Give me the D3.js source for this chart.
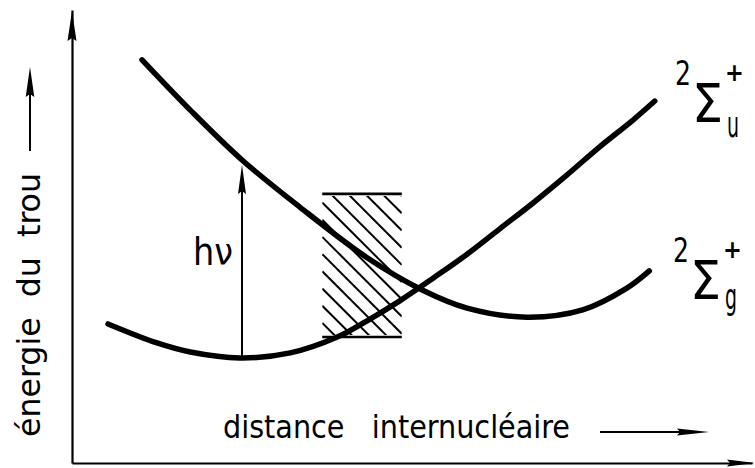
<!DOCTYPE html>
<html>
<head>
<meta charset="utf-8">
<script src="https://cdn.jsdelivr.net/npm/d3@7"></script>
<style>
  html, body { margin: 0; padding: 0; background: #fff; }
  svg { display: block; }
  text { font-family: "DejaVu Sans Condensed", "DejaVu Sans", sans-serif; fill: #000; white-space: pre; }
</style>
</head>
<body>
<svg id="chart" width="755" height="468"></svg>
<script>
// Potential curves of the hole (arbitrary units: internuclear distance, energy)
const sigmaGx = [10.3, 17.4, 25.0, 33.5, 43.4, 51.5, 58.1, 66.9, 75.1, 81.6, 84.9];
const sigmaGy = [89.0, 77.9, 66.9, 56.5, 45.3, 38.2, 34.2, 32.2, 33.8, 38.6, 42.4];

const sigmaUx = [5.3, 12.5, 17.4, 24.7, 32.1, 39.0, 43.4, 48.2, 53.1, 58.1, 62.9, 67.8, 72.8, 77.6, 82.5, 85.7];
const sigmaUy = [30.7, 26.5, 24.5, 23.2, 24.3, 27.8, 31.4, 35.8, 40.8, 46.1, 51.7, 57.4, 63.6, 69.8, 75.7, 79.9];

// Vertical transition h·nu: from the minimum of the lower state up to the upper curve
const transitionX = [25.0];
const transitionY = [23.2, 65.8];

// Shaded region (distance range, energy range)
const bandX = [36.8, 48.5];
const bandY = [27.8, 59.4];

const labels = ["énergie  du  trou", "distance   internucléaire", "hν"];
const states = ["u", "g"];

const svg = d3.select("#chart");
const x = d3.scaleLinear().domain([0, 100]).range([72, 752]);
const y = d3.scaleLinear().domain([0, 100]).range([463, 10]);

// Filled spear-shaped arrow head with its tip at (tx, ty), pointing along angle a
function head(g, tx, ty, a, len, hw) {
  const ca = Math.cos(a), sa = Math.sin(a);
  const bx = tx - ca * len, by = ty - sa * len;
  const p = d3.path();
  p.moveTo(tx, ty);
  p.lineTo(bx - sa * hw, by + ca * hw);
  p.lineTo(bx + ca * 3, by + sa * 3);
  p.lineTo(bx + sa * hw, by - ca * hw);
  p.closePath();
  g.append("path").attr("d", p.toString()).attr("fill", "#000");
}

// Axes (no ticks), drawn with d3 axes
svg.append("g").attr("transform", `translate(0,${y(0)})`)
  .call(d3.axisBottom(x).tickValues([]).tickSizeOuter(0));
svg.append("g").attr("transform", `translate(${x(0)},0)`)
  .call(d3.axisLeft(y).tickValues([]).tickSizeOuter(0));
svg.selectAll(".domain").attr("stroke", "#000").attr("stroke-width", 2.2);
head(svg, x(100) + 3, y(0), 0, 28, 3.6);
head(svg, x(0), y(100) + 1, -Math.PI / 2, 30, 4.5);

// Shaded band: top and bottom edges plus diagonal hatching
const bx0 = x(bandX[0]), bx1 = x(bandX[1]);
const by0 = y(bandY[1]), by1 = y(bandY[0]);
svg.append("clipPath").attr("id", "bandClip")
  .append("rect").attr("x", bx0).attr("y", by0 + 2).attr("width", bx1 - bx0).attr("height", by1 - by0 - 4);
const hatch = svg.append("g").attr("clip-path", "url(#bandClip)");
const step = 17.2;
for (let c = (by0 - bx0) - 1.5 * step - Math.ceil((bx1 - bx0) / step) * step; c < by1 - bx0 + step; c += step) {
  // lines y = x + c
  hatch.append("line")
    .attr("x1", bx0).attr("y1", bx0 + c)
    .attr("x2", bx1).attr("y2", bx1 + c)
    .attr("stroke", "#000").attr("stroke-width", 2);
}
[by0, by1].forEach(yy => {
  svg.append("line").attr("x1", bx0).attr("x2", bx1).attr("y1", yy).attr("y2", yy)
    .attr("stroke", "#000").attr("stroke-width", 2.6);
});

// Potential curves
const line = d3.line().x(d => x(d[0])).y(d => y(d[1])).curve(d3.curveCatmullRom.alpha(0.5));
[[sigmaGx, sigmaGy], [sigmaUx, sigmaUy]].forEach(([xs, ys]) => {
  svg.append("path")
    .attr("d", line(xs.map((v, i) => [v, ys[i]])))
    .attr("fill", "none").attr("stroke", "#000")
    .attr("stroke-width", 5.5).attr("stroke-linecap", "round");
});

// Transition arrow
const tx = x(transitionX[0]);
svg.append("line").attr("x1", tx).attr("x2", tx)
  .attr("y1", y(transitionY[0])).attr("y2", y(transitionY[1]) + 20)
  .attr("stroke", "#000").attr("stroke-width", 2);
head(svg, tx, y(transitionY[1]), -Math.PI / 2, 29, 4);
svg.append("text").attr("x", 193).attr("y", 265)
  .attr("font-size", 37).attr("textLength", 40).attr("lengthAdjust", "spacingAndGlyphs")
  .text(labels[2]);

// State term symbols 2Σ+ with u/g subscript, one text element each
function stateLabel(x0, y0, sub) {
  const t = svg.append("text");
  t.append("tspan").attr("x", x0).attr("y", y0).attr("font-size", 33)
    .attr("textLength", 16).attr("lengthAdjust", "spacingAndGlyphs").text("2");
  t.append("tspan").attr("x", x0 + 17).attr("y", y0 + 37).attr("font-size", 54)
    .attr("textLength", 31).attr("lengthAdjust", "spacingAndGlyphs").text("Σ");
  t.append("tspan").attr("x", x0 + 50).attr("y", y0 - 4).attr("font-size", 25)
    .attr("font-weight", "bold").text("+");
  t.append("tspan").attr("x", x0 + 52).attr("y", y0 + (sub === "g" ? 47 : 52)).attr("font-size", 36)
    .attr("textLength", 12).attr("lengthAdjust", "spacingAndGlyphs").text(sub);
}
stateLabel(675, 85, states[0]);
stateLabel(673, 262, states[1]);

// Axis titles with their arrows
svg.append("text").attr("transform", "translate(40,437) rotate(-90)")
  .attr("font-size", 32).attr("textLength", 264).attr("lengthAdjust", "spacingAndGlyphs")
  .attr("xml:space", "preserve")
  .text(labels[0]);
svg.append("line").attr("x1", 30).attr("x2", 30).attr("y1", 151).attr("y2", 90)
  .attr("stroke", "#000").attr("stroke-width", 2);
head(svg, 30, 67, -Math.PI / 2, 30, 4.3);

svg.append("text").attr("x", 223).attr("y", 438)
  .attr("font-size", 32).attr("textLength", 347).attr("lengthAdjust", "spacingAndGlyphs")
  .attr("xml:space", "preserve")
  .text(labels[1]);
svg.append("line").attr("x1", 600).attr("x2", 685).attr("y1", 432).attr("y2", 432)
  .attr("stroke", "#000").attr("stroke-width", 2);
head(svg, 709, 432, 0, 32, 3.6);
</script>
</body>
</html>
